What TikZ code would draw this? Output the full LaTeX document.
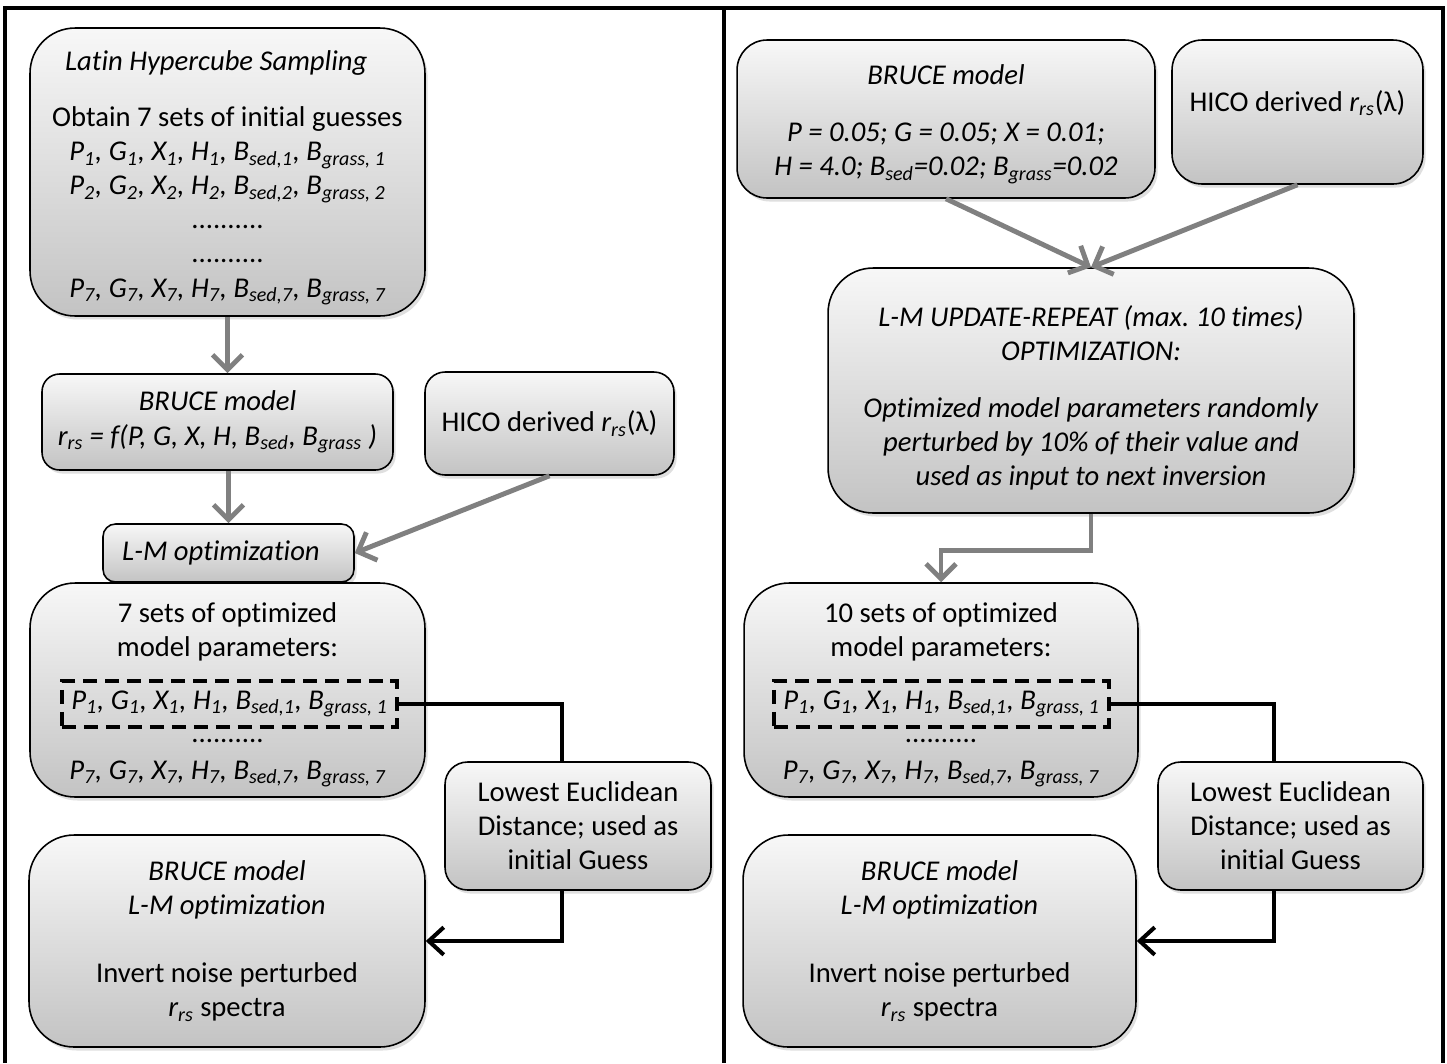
\documentclass[tikz,border=0pt]{standalone}
\usepackage{fontspec}
\setmainfont{Carlito}[Ligatures=NoCommon]
\usetikzlibrary{arrows.meta,shadows,positioning}
\newcommand{\lo}[1]{\textsubscript{#1}}
\newcommand{\pset}[1]{\textit{P\lo{#1}, G\lo{#1}, X\lo{#1}, H\lo{#1}, B\lo{sed,#1}, B\lo{grass, #1}}}
\newcommand{\rrs}{\textit{r\lo{rs}}}
\frenchspacing

\begin{document}
\begin{tikzpicture}[x=0.02cm,y=-0.02cm,
  box/.style = {draw=black, line width=0.9pt, top color=gray!6, bottom color=gray!47, align=center, inner sep=0pt,
    font=\fontsize{16.3}{19.4}\selectfont, drop shadow={opacity=0.25,shadow xshift=1.5pt,shadow yshift=-2pt}},
  txt/.style = {align=center, inner sep=0pt, font=\fontsize{16.3}{19.4}\selectfont},
  dashbox/.style = {draw, dash pattern=on 8pt off 4.5pt, line width=2pt, minimum width=6.7cm, minimum height=0.92cm,
    inner sep=0pt, font=\fontsize{16.3}{19.4}\selectfont},
  garrow/.style = {-{Straight Barb[length=0.3cm,width=0.6cm]}, gray, line width=2.8pt},
  karrow/.style = {-{Straight Barb[length=0.3cm,width=0.55cm]}, line width=2.3pt},
  kline/.style = {line width=2.3pt},
  frame/.style = {line width=2.3pt}]
\fill[white] (0,0) rectangle (1447,1063);
\useasboundingbox (0,0) rectangle (1447,1063);
\draw[frame] (5,1063) -- (5,8) -- (1443,8) -- (1443,1063);
\draw[frame] (724,8) -- (724,1063);

% left panel
\node[box, rounded corners=0.9cm, minimum width=7.9cm, minimum height=5.76cm] (lhs) at (227.5,172)
  {\rule{0pt}{18pt}\textit{Latin Hypercube Sampling}\hspace*{0.45cm}\\[0.44cm] Obtain 7 sets of initial guesses\\ \pset{1}\\ \pset{2}\\ ..........\\ ..........\\ \pset{7}};
\node[box, rounded corners=0.35cm, minimum width=7.02cm, minimum height=1.92cm] (bruceL) at (217.5,422)
  {\textit{BRUCE model}\\ \rrs\textit{ = f(P, G, X, H, B\lo{sed}, B\lo{grass} )}};
\node[box, rounded corners=0.4cm, minimum width=4.98cm, minimum height=2.06cm] (hicoL) at (549.5,423.5)
  {HICO derived \rrs(λ)};
\node[box, rounded corners=0.25cm, minimum width=5.02cm, minimum height=1.16cm] (lmL) at (228.5,553)
  {\textit{L-M optimization}\hspace*{0.3cm}};
\node[box, rounded corners=0.9cm, minimum width=7.9cm, minimum height=4.28cm] (setsL) at (227.5,690) {};
\node[txt] (setsLhead) at (227.5,632) {7 sets of optimized\\model parameters:};
\node[dashbox] (dashL) at (229.5,704) {\pset{1}};
\node[txt] (setsLdots) at (227.5,741) {..........};
\node[txt] (setsLlast) at (227.5,774) {\pset{7}};
\node[box, rounded corners=0.45cm, minimum width=5.32cm, minimum height=2.56cm] (lowL) at (578,826)
  {Lowest Euclidean\\Distance; used as\\initial Guess};
\node[box, rounded corners=0.9cm, minimum width=7.92cm, minimum height=4.24cm] (invL) at (227,941)
  {\textit{BRUCE model}\\ \textit{L-M optimization}\\[0.68cm] Invert noise perturbed\\ \rrs{} spectra};

\draw[garrow] (lhs.south) -- (lhs.south |- bruceL.north);
\draw[garrow] (lmL.north |- bruceL.south) -- (lmL.north);
\draw[garrow] (hicoL.south) -- (lmL.east);
\draw[kline] (dashL.east) -| ([xshift=-0.32cm]lowL.north);
\draw[karrow] ([xshift=-0.32cm]lowL.south) |- (invL.east);

% right panel
\node[box, rounded corners=0.6cm, minimum width=8.36cm, minimum height=3.16cm] (bruceR) at (946,119)
  {\rule{0pt}{17pt}\textit{BRUCE model}\\[0.46cm] \textit{P = 0.05; G = 0.05; X = 0.01;}\\ \textit{H = 4.0; B\lo{sed}=0.02; B\lo{grass}=0.02}};
\node[box, rounded corners=0.6cm, minimum width=5.02cm, minimum height=2.88cm, text depth=0.45cm] (hicoR) at (1297.5,112)
  {HICO derived \rrs(λ)};
\node[box, rounded corners=0.9cm, minimum width=10.52cm, minimum height=4.9cm] (lmR) at (1091,390.5)
  {\rule{0pt}{20pt}\textit{L-M UPDATE-REPEAT (max. 10 times)}\\ \textit{OPTIMIZATION:}\\[0.46cm]
   \textit{Optimized model parameters randomly}\\ \textit{perturbed by 10\% of their value and}\\ \textit{used as input to next inversion}};
\node[box, rounded corners=0.9cm, minimum width=7.88cm, minimum height=4.28cm] (setsR) at (941,690) {};
\node[txt] (setsRhead) at (941,632) {10 sets of optimized\\model parameters:};
\node[dashbox] (dashR) at (941.5,704) {\pset{1}};
\node[txt] (setsRdots) at (941,741) {..........};
\node[txt] (setsRlast) at (941,774) {\pset{7}};
\node[box, rounded corners=0.45cm, minimum width=5.3cm, minimum height=2.56cm] (lowR) at (1290.5,826)
  {Lowest Euclidean\\Distance; used as\\initial Guess};
\node[box, rounded corners=0.9cm, minimum width=7.86cm, minimum height=4.24cm] (invR) at (939.5,941)
  {\textit{BRUCE model}\\ \textit{L-M optimization}\\[0.68cm] Invert noise perturbed\\ \rrs{} spectra};

\draw[garrow] (bruceR.south) -- (lmR.north);
\draw[garrow] (hicoR.south) -- (lmR.north);
\draw[garrow] (lmR.south) -- ++(0,37) -| (setsR.north);
\draw[kline] (dashR.east) -| ([xshift=-0.33cm]lowR.north);
\draw[karrow] ([xshift=-0.33cm]lowR.south) |- (invR.east);
\end{tikzpicture}
\end{document}
